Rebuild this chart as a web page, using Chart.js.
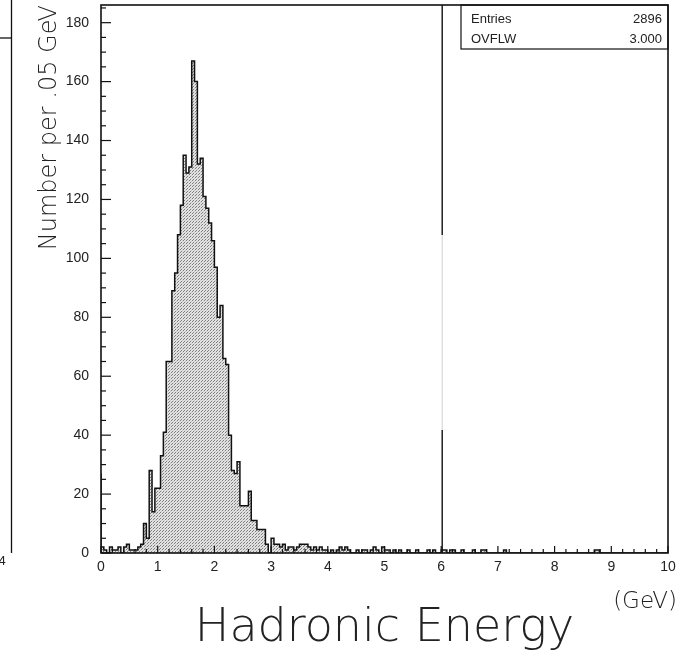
<!DOCTYPE html>
<html>
<head>
<meta charset="utf-8">
<script src="https://cdn.jsdelivr.net/npm/chart.js@4.4.1/dist/chart.umd.min.js"></script>
<style>
html,body{margin:0;padding:0;background:#fff;}
#wrap{width:685px;height:653px;position:relative;}
</style>
</head>
<body>
<div id="wrap"><canvas id="c" width="685" height="653"></canvas></div>
<script>
// ---- data (counts per 0.05 GeV bin) ----
const binWidth = 0.05;
const counts_0_1  = [27,2,1,0,2,1,1,2,0,2,3,1,1,1,2,3,10,5,28,14];
const counts_1_2  = [22,22,33,41,65,65,89,95,108,118,135,129,131,167,160,132,134,121,117,112];
const counts_2_3  = [106,97,80,84,66,64,40,28,27,31,16,16,16,21,11,11,8,8,8,3];
const counts_3_4  = [0,5,3,3,2,3,1,2,2,1,2,3,3,3,2,1,2,1,2,1];
const counts_4_5  = [1,0,1,0,1,2,1,2,1,0,0,1,0,1,1,0,1,2,1,0];
const counts_5_6  = [2,1,1,0,1,0,1,0,0,1,0,0,1,0,0,0,1,0,1,0];
const counts_6_7  = [0,1,1,0,1,1,0,0,1,0,0,0,1,0,0,1,1,0,0,0];
const counts_7_8  = [0,0,0,1,0,0,0,0,0,0,0,0,0,0,0,0,0,0,0,0];
const counts_8_9  = [0,0,0,0,0,0,0,0,0,0,0,0,0,0,0,1,1,0,0,0];
const counts_9_10 = [0,0,0,0,0,0,0,0,0,0,0,0,0,0,0,0,0,0,0,0];
const xRange = [0, 10];
const yRange = [0, 186];
const xTickLabels = ['0','1','2','3','4','5','6','7','8','9','10'];
const yTickLabels = ['0','20','40','60','80','100','120','140','160','180'];
const statLabels = ['Entries','OVFLW'];
const statValues = ['2896','3.000'];
const markerEnergy = 6;
const xTitle = 'Hadronic Energy';
const xUnit = '(GeV)';
const yTitle = 'Number per .05 GeV';
const leftPanelLabel = '4';

const counts = [].concat(counts_0_1,counts_1_2,counts_2_3,counts_3_4,counts_4_5,
                         counts_5_6,counts_6_7,counts_7_8,counts_8_9,counts_9_10);
const points = [{x:xRange[0], y:0}];
counts.forEach((v,i)=>points.push({x:+(i*binWidth).toFixed(2), y:v}));
points.push({x:xRange[1], y:0});

// stipple (dot screen) fill pattern
const pc = document.createElement('canvas'); pc.width = 3; pc.height = 3;
const pctx = pc.getContext('2d');
pctx.fillStyle = '#e2e2e2'; pctx.fillRect(0,0,3,3);
pctx.fillStyle = '#7e7e7e'; pctx.fillRect(0,0,1,1); pctx.fillRect(1,2,1,1);
pctx.fillStyle = '#c4c4c4'; pctx.fillRect(2,1,1,1);
const canvas = document.getElementById('c');
const pattern = canvas.getContext('2d').createPattern(pc,'repeat');

const TICK_FONT = 'Liberation Sans';
const TITLE_FONT = 'DejaVu Sans';

const decor = {
  id: 'decor',
  afterDraw(chart){
    const {ctx, chartArea:a, scales:{x, y}} = chart;
    const line = (x1,y1,x2,y2)=>{ctx.beginPath();ctx.moveTo(x1,y1);ctx.lineTo(x2,y2);ctx.stroke();};
    ctx.save();
    ctx.strokeStyle = '#111';
    // frame
    ctx.lineWidth = 1.6;
    ctx.strokeRect(a.left, a.top, a.right-a.left, a.bottom-a.top);
    // y ticks (inward)
    ctx.lineWidth = 1.2;
    for (let v = 0; v <= yRange[1]; v += 5) {
      const py = y.getPixelForValue(v);
      line(a.left, py, a.left + (v % 20 === 0 ? 10 : 5), py);
    }
    // x ticks (inward)
    for (let k = 0; k <= 50; k++) {
      const px = x.getPixelForValue(k * 0.2);
      line(px, a.bottom, px, a.bottom - (k % 5 === 0 ? 7 : 4));
    }
    // vertical marker line
    const mx = x.getPixelForValue(markerEnergy) + 1;
    ctx.lineWidth = 1.4;
    line(mx, a.top, mx, 235);
    line(mx, 430, mx, a.bottom);
    ctx.strokeStyle = '#d0d0d0'; ctx.lineWidth = 1;
    line(mx, 235, mx, 430);
    ctx.strokeStyle = '#111';
    // stats box
    ctx.lineWidth = 1.2;
    const bx = 461, by = a.top, bw = a.right - 461, bh = 44;
    ctx.strokeRect(bx, by, bw, bh);
    ctx.fillStyle = '#222';
    ctx.font = '13px "' + TICK_FONT + '"';
    ctx.textBaseline = 'alphabetic';
    statLabels.forEach((s,i)=>{
      ctx.textAlign = 'left'; ctx.fillText(s, 471, 23 + i*20);
      ctx.textAlign = 'right'; ctx.fillText(statValues[i], a.right - 6, 23 + i*20);
    });
    // unit label
    ctx.font = '200 23px "' + TITLE_FONT + '"';
    ctx.textAlign = 'right';
    ctx.fillText(xUnit, 677, 608);
    // partial neighbouring panel at the left edge
    ctx.lineWidth = 1.3;
    line(11.5, 0, 11.5, a.bottom);
    line(0, 38, 11.5, 38);
    ctx.font = '13px "' + TICK_FONT + '"';
    ctx.textAlign = 'center';
    ctx.fillText(leftPanelLabel, 2, 565);
    ctx.restore();
  }
};

new Chart(canvas, {
  type: 'line',
  data: {
    datasets: [{
      data: points,
      stepped: 'after',
      borderColor: '#111',
      borderWidth: 1.5,
      backgroundColor: pattern,
      fill: 'origin',
      pointRadius: 0,
      tension: 0
    }]
  },
  options: {
    responsive: false,
    animation: false,
    events: [],
    layout: {padding: {top: 5, right: 17, left: 0, bottom: 0}},
    plugins: {legend: {display: false}, tooltip: {enabled: false}},
    scales: {
      x: {
        type: 'linear', min: xRange[0], max: xRange[1],
        grid: {display: false, drawTicks: false},
        border: {display: false},
        ticks: {
          stepSize: 1, padding: 6, color: '#222', maxRotation: 0, includeBounds: false,
          font: {family: TICK_FONT, size: 14},
          callback: (v) => xTickLabels[Math.round(v)] ?? ''
        },
        title: {
          display: true, text: xTitle, color: '#222',
          font: {family: TITLE_FONT, size: 46, weight: 200, lineHeight: 1},
          padding: {top: 0, bottom: 1}
        },
        afterFit: (s) => { s.height = 100; s.paddingLeft = 0; s.paddingRight = 0; }
      },
      y: {
        type: 'linear', min: yRange[0], max: yRange[1],
        grid: {display: false, drawTicks: false},
        border: {display: false},
        ticks: {
          stepSize: 20, padding: 12, color: '#222', includeBounds: false,
          font: {family: TICK_FONT, size: 14},
          callback: (v) => yTickLabels[Math.round(v/20)] ?? ''
        },
        title: {
          display: true, text: yTitle, color: '#222', align: 'end',
          font: {family: TITLE_FONT, size: 24, weight: 200, lineHeight: 1.2},
          padding: {top: 35, bottom: 0}
        },
        afterFit: (s) => { s.width = 101; s.paddingTop = 0; s.paddingBottom = 0; }
      }
    }
  },
  plugins: [decor]
});
</script>
</body>
</html>
